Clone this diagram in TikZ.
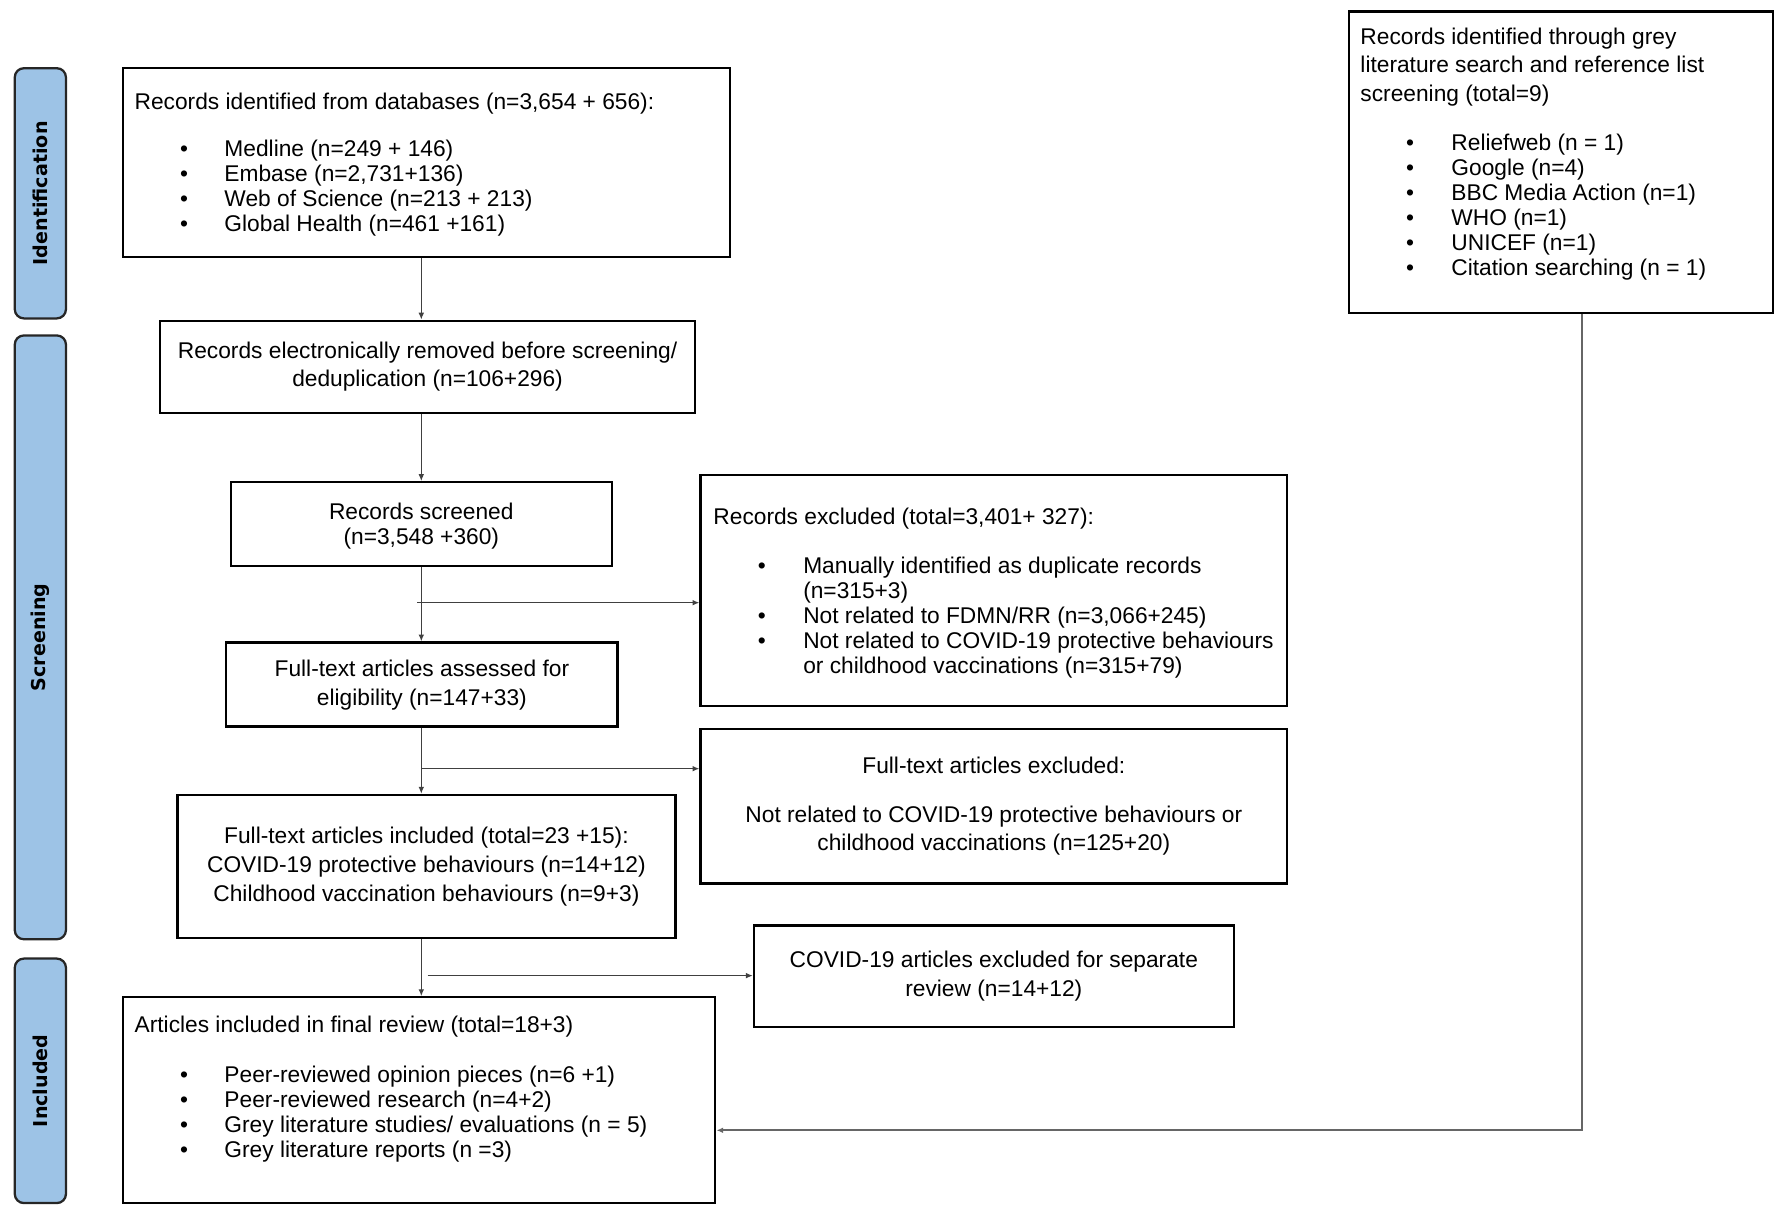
\documentclass[tikz,border=0pt]{standalone}
\usepackage{fontspec}
\setmainfont{Liberation Sans}
\newfontfamily\sidefont{DejaVu Sans}
\usetikzlibrary{arrows.meta}
\definecolor{sideblue}{RGB}{157,195,230}
\begin{document}
\begin{tikzpicture}[x=0.5pt,y=-0.5pt,
  font=\fontsize{10}{12}\selectfont,
  box/.style={draw=black, line width=1pt, inner sep=0pt, fill=white},
  side/.style={draw=black!85, line width=1pt, fill=sideblue, rounded corners=4pt, inner sep=0pt, minimum width=22.5pt},
  sidelabel/.style={font=\sidefont\bfseries\fontsize{8.4}{9}\selectfont, rotate=90, inner sep=0pt},
  arr/.style={draw=black!75, line width=0.5pt, -{Latex[length=3pt,width=2.5pt]}},
  greyarr/.style={draw=black!60, line width=0.9pt, -{Latex[length=3pt,width=2.5pt]}},
  txt/.style={anchor=base west, inner sep=0pt},
  ctxt/.style={anchor=base, inner sep=0pt},
  bul/.style={anchor=base, inner sep=0pt},
]
\useasboundingbox (0,0) rectangle (1568,1069);

% phase side bars
\node[side, minimum height=110pt] (s1) at (35.5,170) {};
\node[sidelabel] (s1t) at (s1) {Identification};
\node[side, minimum height=265.5pt] (s2) at (35.5,560.5) {};
\node[sidelabel] (s2t) at (s2) {Screening};
\node[side, minimum height=107.5pt] (s3) at (35.5,950.5) {};
\node[sidelabel] (s3t) at (s3) {Included};

% boxes
\node[box, minimum width=267pt, minimum height=83pt] (b1) at (375,143) {};
\node[box, minimum width=235pt, minimum height=40.5pt] (b2) at (376,322.5) {};
\node[box, minimum width=167.5pt, minimum height=37pt] (b3) at (370.5,461) {};
\node[box, minimum width=172pt, minimum height=37pt] (b4) at (371,602) {};
\node[box, minimum width=219pt, minimum height=63pt] (b5) at (375,762) {};
\node[box, minimum width=260.5pt, minimum height=90.5pt] (b6) at (368.5,967.5) {};
\node[box, minimum width=258pt, minimum height=101.5pt] (r1) at (874,519.5) {};
\node[box, minimum width=258pt, minimum height=68pt] (r2) at (874,709) {};
\node[box, minimum width=211pt, minimum height=44.5pt] (r3) at (874,858.5) {};
\node[box, minimum width=186.5pt, minimum height=132.5pt] (g) at (1372.5,142.5) {};

% box 1 text
\node[txt] (b1t) at (118,96) {Records identified from databases (n=3,654 + 656):};
\foreach \yy/\lbl [count=\i] in {138/{Medline (n=249 + 146)}, 160/{Embase (n=2,731+136)}, 182/{Web of Science (n=213 + 213)}, 204/{Global Health (n=461 +161)}} {
  \node[bul] (b1b\i) at (162,\yy) {\textbullet};
  \node[txt] (b1l\i) at (197,\yy) {\lbl};
}

% box 2 text
\node[ctxt] (b2t1) at (376,315) {Records electronically removed before screening/};
\node[ctxt] (b2t2) at (376,340) {deduplication (n=106+296)};

% box 3 text
\node[ctxt] (b3t1) at (370.5,457) {Records screened};
\node[ctxt] (b3t2) at (370.5,479) {(n=3,548 +360)};

% box 4 text
\node[ctxt] (b4t1) at (371,595) {Full-text articles assessed for};
\node[ctxt] (b4t2) at (371,620) {eligibility (n=147+33)};

% box 5 text
\node[ctxt] (b5t1) at (375,742) {Full-text articles included (total=23 +15):};
\node[ctxt] (b5t2) at (375,767) {COVID-19 protective behaviours (n=14+12)};
\node[ctxt] (b5t3) at (375,793) {Childhood vaccination behaviours (n=9+3)};

% box 6 text
\node[txt] (b6t) at (118,908) {Articles included in final review (total=18+3)};
\foreach \yy/\lbl [count=\i] in {952/{Peer-reviewed opinion pieces (n=6 +1)}, 974/{Peer-reviewed research (n=4+2)}, 996/{Grey literature studies/ evaluations (n = 5)}, 1018/{Grey literature reports (n =3)}} {
  \node[bul] (b6b\i) at (162,\yy) {\textbullet};
  \node[txt] (b6l\i) at (197,\yy) {\lbl};
}

% records excluded text
\node[txt] (r1t) at (627,461) {Records excluded (total=3,401+ 327):};
\node[bul] (r1b1) at (670,504) {\textbullet};
\node[txt] (r1l1) at (706,504) {Manually identified as duplicate records};
\node[txt] (r1l1b) at (706,526) {(n=315+3)};
\node[bul] (r1b2) at (670,548) {\textbullet};
\node[txt] (r1l2) at (706,548) {Not related to FDMN/RR (n=3,066+245)};
\node[bul] (r1b3) at (670,570) {\textbullet};
\node[txt] (r1l3) at (706,570) {Not related to COVID-19 protective behaviours};
\node[txt] (r1l3b) at (706,592) {or childhood vaccinations (n=315+79)};

% full-text excluded text
\node[ctxt] (r2t1) at (874,680) {Full-text articles excluded:};
\node[ctxt] (r2t2) at (874,723) {Not related to COVID-19 protective behaviours or};
\node[ctxt] (r2t3) at (874,748) {childhood vaccinations (n=125+20)};

% covid excluded text
\node[ctxt] (r3t1) at (874,851) {COVID-19 articles excluded for separate};
\node[ctxt] (r3t2) at (874,876) {review (n=14+12)};

% grey literature text
\node[txt] (gt1) at (1196,39) {Records identified through grey};
\node[txt] (gt2) at (1196,64) {literature search and reference list};
\node[txt] (gt3) at (1196,89) {screening (total=9)};
\foreach \yy/\lbl [count=\i] in {132/{Reliefweb (n = 1)}, 154/{Google (n=4)}, 176/{BBC Media Action (n=1)}, 198/{WHO (n=1)}, 220/{UNICEF (n=1)}, 242/{Citation searching (n = 1)}} {
  \node[bul] (gb\i) at (1240,\yy) {\textbullet};
  \node[txt] (gl\i) at (1276,\yy) {\lbl};
}

% connectors
\coordinate (j1) at (367,530);
\coordinate (j2) at (371,676);
\coordinate (j3) at (376,858);
\coordinate (gx) at (1391,994);
\draw[arr] (b3.north |- b1.south) -- (b3.north |- b2.north);
\draw[arr] (b3.north |- b2.south) -- (b3.north);
\draw[arr] (b3.south) -- (b3.south |- b4.north);
\draw[arr] (j1) -- (j1 -| r1.west);
\draw[arr] (b3.south |- b4.south) -- (b3.south |- b5.north);
\draw[arr] (j2) -- (j2 -| r2.west);
\draw[arr] (b3.south |- b5.south) -- (b3.south |- b6.north);
\draw[arr] (j3) -- (j3 -| r3.west);
\draw[greyarr] (g.south -| gx) -- (gx) -- (gx -| b6.east);
\end{tikzpicture}
\end{document}
